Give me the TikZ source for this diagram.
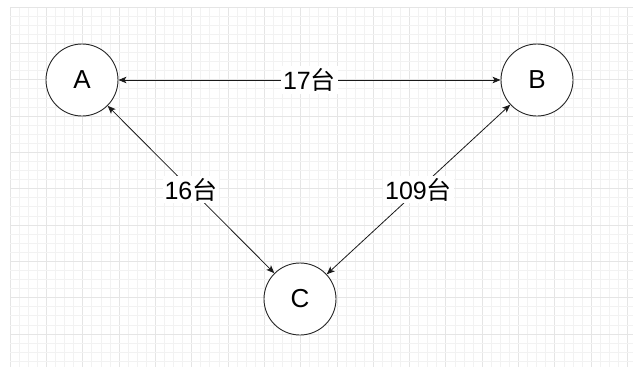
\documentclass[tikz,border=0pt]{standalone}
\usepackage{fontspec}
\setmainfont{Liberation Sans}
\newfontfamily\cjk{Noto Sans CJK SC}
\usetikzlibrary{arrows.meta}
\newcommand{\tai}{{\cjk 台}}

\begin{document}
\begin{tikzpicture}[x=1pt,y=-1pt,
  gridminor/.style={draw=black!5,line width=0.6pt},
  gridmajor/.style={draw=black!10,line width=0.7pt},
  stn/.style={draw=black!85,circle,fill=white,line width=0.9pt,minimum size=72pt,inner sep=0pt,font=\fontsize{26}{30}\selectfont},
  lbl/.style={fill=white,inner sep=2pt,font=\fontsize{25}{29}\selectfont},
  wire/.style={draw=black!90,line width=0.8pt,{Stealth[length=8pt,width=6.5pt,inset=2pt]}-{Stealth[length=8pt,width=6.5pt,inset=2pt]}}]

\useasboundingbox (0,0) rectangle (633,367);

% --- background grid --------------------------------------------------
\foreach \k in {0,...,68}{
  \pgfmathtruncatemacro{\m}{mod(\k,4)}
  \ifnum\m=0 \draw[gridmajor] (10+9.08*\k,7) -- (10+9.08*\k,367);
  \else \draw[gridminor] (10+9.08*\k,7) -- (10+9.08*\k,367); \fi
}
\foreach \j in {0,...,39}{
  \pgfmathtruncatemacro{\m}{mod(\j,4)}
  \ifnum\m=0 \draw[gridmajor] (10,7+9.08*\j) -- (633,7+9.08*\j);
  \else \draw[gridminor] (10,7+9.08*\j) -- (633,7+9.08*\j); \fi
}

% --- stations ---------------------------------------------------------
\node[stn] (A) at (82,80) {A};
\node[stn] (B) at (537,80) {B};
\node[stn] (C) at (300,299) {C};

% --- links ------------------------------------------------------------
\draw[wire] (A) -- node[lbl] {17\tai} (B);
\draw[wire] (A) -- node[lbl] {16\tai} (C);
\draw[wire] (B) -- node[lbl] {109\tai} (C);
\end{tikzpicture}
\end{document}
